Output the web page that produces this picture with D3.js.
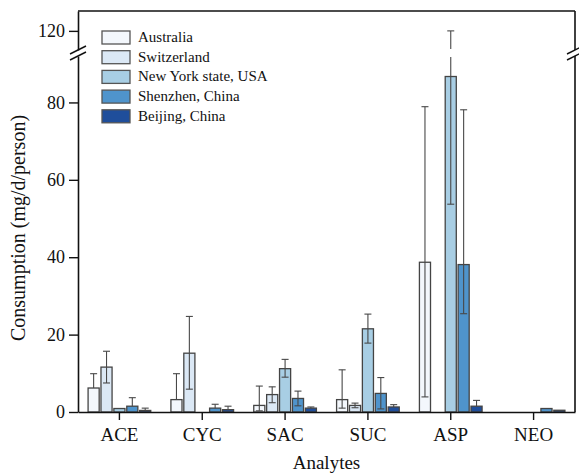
<!DOCTYPE html>
<html>
<head>
<meta charset="utf-8">
<script src="https://cdn.jsdelivr.net/npm/d3@7"></script>
<style>
  body { margin: 0; background: #fff; }
  svg text { font-family: "Liberation Serif", "Times New Roman", serif; fill: #111; }
</style>
</head>
<body>
<svg id="canvas" width="579" height="474"></svg>
<script>
let categories = ['ACE', 'CYC', 'SAC', 'SUC', 'ASP', 'NEO']
let seriesNames = ['Australia', 'Switzerland', 'New York state, USA', 'Shenzhen, China', 'Beijing, China']
let seriesColors = ['#f3f7fc', '#dbe8f5', '#a8cee4', '#4f94cc', '#1f4e9b']

// mean consumption per analyte (null = not reported)
let australia   = [6.2, 3.2, 1.7, 3.2, 38.7, null]
let switzerland = [11.6, 15.2, 4.5, 1.7, null, null]
let newYork     = [0.9, null, 11.2, 21.5, 86.7, null]
let shenzhen    = [1.5, 1.0, 3.5, 4.8, 38.1, 0.9]
let beijing     = [0.4, 0.6, 1.0, 1.3, 1.5, 0.45]

// error bar upper ends
let australiaHi   = [9.9, 9.9, 6.7, 10.9, 78.9, null]
let switzerlandHi = [15.7, 24.7, 6.5, 2.3, null, null]
let newYorkHi     = [null, null, 13.6, 25.3, 120, null]
let shenzhenHi    = [3.7, 2.0, 5.4, 8.9, 78.1, null]
let beijingHi     = [1.0, 1.5, 1.3, 1.9, 3.0, null]

// error bar lower ends (null = no lower whisker shown)
let australiaLo   = [null, null, 0.3, 1.0, 3.9, null]
let switzerlandLo = [7.5, 5.9, 2.4, 1.1, null, null]
let newYorkLo     = [null, null, 9.0, 17.8, 53.7, null]
let shenzhenLo    = [null, null, 1.6, 0.8, 25.4, null]
let beijingLo     = [null, null, null, null, null, null]

let lowerTicks = [0, 20, 40, 60, 80]
let upperTicks = [120]

let means = [australia, switzerland, newYork, shenzhen, beijing]
let highs = [australiaHi, switzerlandHi, newYorkHi, shenzhenHi, beijingHi]
let lows = [australiaLo, switzerlandLo, newYorkLo, shenzhenLo, beijingLo]

let canvas = d3.select('#canvas')

let plotLeft = 78, plotRight = 575, plotTop = 11, plotBottom = 412
let lowMax = 92, highMin = 115, highMax = 125.2
let lowTop = 56, highBottom = 50

let x = d3.scaleBand().domain(categories).range([plotLeft, plotRight]).paddingInner(0.2).paddingOuter(0.1)
let x1 = d3.scaleBand().domain(seriesNames).range([0, x.bandwidth()]).padding(0.14)
let yLow = d3.scaleLinear().domain([0, lowMax]).range([plotBottom, lowTop])
let yHigh = d3.scaleLinear().domain([highMin, highMax]).range([highBottom, plotTop])
let y = (v) => v <= lowMax ? yLow(v) : yHigh(v)

// build one record per bar
let bars = []
categories.forEach((cat, ci) => {
    seriesNames.forEach((name, si) => {
        if (means[si][ci] === null) return
        bars.push({cat: cat, name: name, si: si, value: means[si][ci], hi: highs[si][ci], lo: lows[si][ci]})
    })
})

canvas.selectAll('rect.bar')
    .data(bars)
    .enter()
    .append('rect')
    .attr('class', 'bar')
    .attr('x', (d) => x(d.cat) + x1(d.name))
    .attr('y', (d) => y(d.value))
    .attr('width', x1.bandwidth())
    .attr('height', (d) => plotBottom - y(d.value))
    .attr('fill', (d) => seriesColors[d.si])
    .attr('stroke', '#444')
    .attr('stroke-width', 1.3)

// error bars, split where they cross the axis break
let errGroup = canvas.append('g').attr('stroke', '#484848').attr('stroke-width', 1.1)
bars.filter((d) => d.hi !== null).forEach((d) => {
    let cx = x(d.cat) + x1(d.name) + x1.bandwidth() / 2
    let lo = d.lo !== null ? d.lo : d.value
    if (d.hi > lowMax) {
        errGroup.append('line').attr('x1', cx).attr('x2', cx).attr('y1', y(lo)).attr('y2', yLow(lowMax) + 1)
        errGroup.append('line').attr('x1', cx).attr('x2', cx).attr('y1', highBottom - 1).attr('y2', y(d.hi))
    } else {
        errGroup.append('line').attr('x1', cx).attr('x2', cx).attr('y1', y(lo)).attr('y2', y(d.hi))
    }
    errGroup.append('line').attr('x1', cx - 3.5).attr('x2', cx + 3.5).attr('y1', y(d.hi)).attr('y2', y(d.hi))
    if (d.lo !== null) {
        errGroup.append('line').attr('x1', cx - 3.5).attr('x2', cx + 3.5).attr('y1', y(d.lo)).attr('y2', y(d.lo))
    }
})

// axes
let styleAxis = (g) => {
    g.selectAll('path').attr('stroke', '#111').attr('stroke-width', 1.6)
    g.selectAll('line').attr('stroke', '#111').attr('stroke-width', 1.4)
    g.selectAll('text').attr('fill', '#111')
}

let yAxisLow = canvas.append('g')
    .attr('transform', 'translate(' + plotLeft + ',0)')
    .call(d3.axisLeft(yLow).tickValues(lowerTicks).tickSize(9).tickSizeOuter(0).tickPadding(4))
yAxisLow.call(styleAxis).selectAll('text').attr('font-size', 18)

let yAxisHigh = canvas.append('g')
    .attr('transform', 'translate(' + plotLeft + ',0)')
    .call(d3.axisLeft(yHigh).tickValues(upperTicks).tickSize(9).tickSizeOuter(0).tickPadding(4))
yAxisHigh.call(styleAxis).selectAll('text').attr('font-size', 18)

let xAxis = canvas.append('g')
    .attr('transform', 'translate(0,' + plotBottom + ')')
    .call(d3.axisBottom(x).tickSize(8).tickSizeOuter(0).tickPadding(8))
xAxis.call(styleAxis).selectAll('text').attr('font-size', 19)

// frame: top and right (right also broken)
canvas.append('line').attr('x1', plotLeft).attr('x2', plotRight).attr('y1', plotTop).attr('y2', plotTop)
    .attr('stroke', '#111').attr('stroke-width', 1.6)
canvas.append('line').attr('x1', plotRight).attr('x2', plotRight).attr('y1', plotTop).attr('y2', highBottom)
    .attr('stroke', '#111').attr('stroke-width', 1.6)
canvas.append('line').attr('x1', plotRight).attr('x2', plotRight).attr('y1', lowTop).attr('y2', plotBottom)
    .attr('stroke', '#111').attr('stroke-width', 1.6)

// break marks
let breakMarks = (bx) => {
    [highBottom, lowTop].forEach((by) => {
        canvas.append('line')
            .attr('x1', bx - 8).attr('x2', bx + 8)
            .attr('y1', by + 4).attr('y2', by - 4)
            .attr('stroke', '#111').attr('stroke-width', 1.4)
    })
}
breakMarks(plotLeft)
breakMarks(plotRight)

// legend
let legend = canvas.append('g').attr('transform', 'translate(102,31)')
seriesNames.forEach((name, i) => {
    let row = legend.append('g').attr('transform', 'translate(0,' + (i * 19.7) + ')')
    row.append('rect')
        .attr('width', 28).attr('height', 13)
        .attr('fill', seriesColors[i])
        .attr('stroke', '#555').attr('stroke-width', 1.3)
    row.append('text')
        .attr('x', 36).attr('y', 11)
        .attr('font-size', 15)
        .text(name)
})

// axis titles
canvas.append('text')
    .attr('x', (plotLeft + plotRight) / 2).attr('y', 469)
    .attr('text-anchor', 'middle')
    .attr('font-size', 19)
    .text('Analytes')

canvas.append('text')
    .attr('transform', 'translate(25,228) rotate(-90)')
    .attr('text-anchor', 'middle')
    .attr('font-size', 20)
    .text('Consumption (mg/d/person)')
</script>
</body>
</html>
